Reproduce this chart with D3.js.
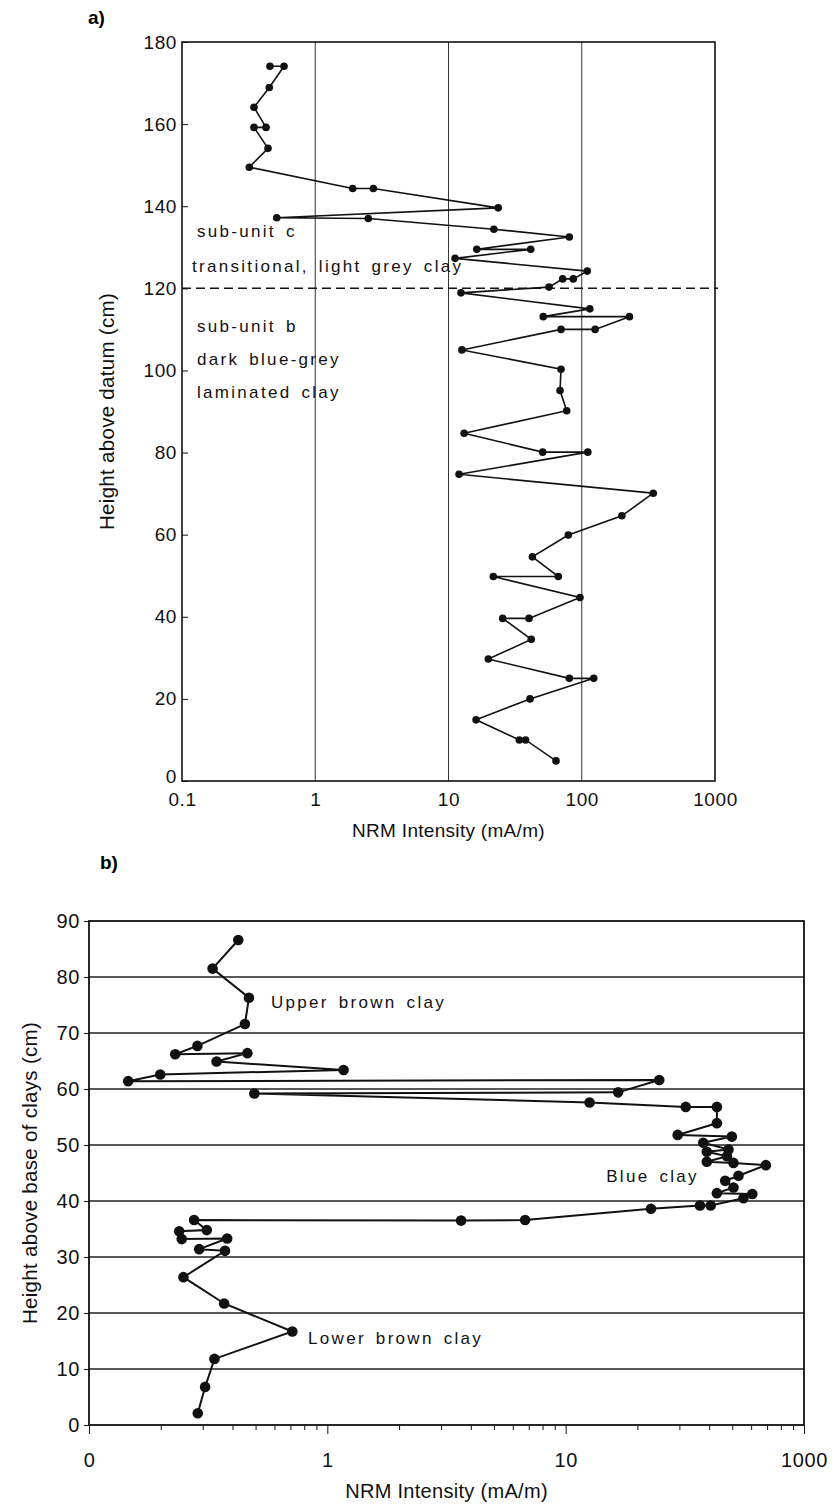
<!DOCTYPE html>
<html>
<head>
<meta charset="utf-8">
<script src="https://d3js.org/d3.v7.min.js"></script>
<style>
  body { margin: 0; background: #fff; }
  svg { font-family: "Liberation Sans", Arial, Helvetica, sans-serif; }
  .note { font-size: 17px; letter-spacing: 2.3px; word-spacing: 3px; fill: #111; }
  .title { font-size: 19px; fill: #111; letter-spacing: 0.3px; }
</style>
</head>
<body>
<svg id="fig" width="840" height="1504"></svg>
<script>
// ---- panel a) : height above datum vs NRM intensity
const aHeight = [174.1, 174.1, 168.9, 164.1, 159.2, 159.2, 154.1, 149.5, 144.3, 144.3,
  139.6, 137.2, 137.0, 134.4, 132.5, 129.5, 129.5, 127.3, 124.2, 122.3,
  122.3, 120.3, 118.9, 115.0, 113.1, 113.1, 110.0, 110.0, 105.0, 100.3,
  95.1, 90.2, 84.7, 80.1, 80.1, 74.7, 70.1, 64.6, 59.9, 54.6,
  49.8, 49.8, 44.7, 39.6, 39.6, 34.5, 29.7, 25.0, 25.0, 20.0,
  14.9, 10.0, 10.0, 4.9];
const aNRM = [0.457, 0.583, 0.452, 0.347, 0.427, 0.347, 0.442, 0.320, 1.91, 2.73,
  23.6, 0.514, 2.50, 21.9, 80.7, 16.3, 41.4, 11.2, 110, 86.4,
  71.9, 56.8, 12.4, 115, 51.4, 228, 126, 69.9, 12.6, 69.9,
  68.7, 77.1, 13.1, 50.9, 111, 12.0, 344, 200, 79.3, 42.6,
  66.7, 21.7, 97.0, 40.2, 25.5, 41.8, 19.9, 80.7, 123, 40.9,
  16.1, 34.0, 37.9, 64.1];
const aXTicks = [0.1, 1, 10, 100, 1000];
const aXLabels = ["0.1", "1", "10", "100", "1000"];
const aYTicks = [0, 20, 40, 60, 80, 100, 120, 140, 160, 180];
const aGrid = [1, 10, 100];
const aBoundary = 120;
const aNotes = [
  { text: "sub-unit c", h: 132.6 },
  { text: "transitional,  light grey clay", h: 123.9 },
  { text: "sub-unit b", h: 109.3 },
  { text: "dark blue-grey", h: 101.4 },
  { text: "laminated clay", h: 93.3 }
];

// ---- panel b) : height above base of clays vs NRM intensity
const bHeight = [86.6, 81.5, 76.3, 71.6, 67.7, 66.2, 66.4, 64.9, 63.4, 62.6,
  61.4, 61.6, 59.4, 59.2, 57.6, 56.8, 56.8, 53.9, 51.8, 51.5,
  50.4, 49.2, 48.8, 48.0, 47.0, 46.8, 46.4, 44.5, 43.6, 42.4,
  41.4, 41.25, 40.5, 39.2, 39.2, 38.6, 36.6, 36.5, 36.6, 34.8,
  34.6, 33.2, 33.3, 31.4, 31.1, 26.4, 21.7, 16.7, 11.8, 6.8, 2.1];
const bNRM = [0.423, 0.330, 0.469, 0.451, 0.285, 0.230, 0.462, 0.343, 1.17, 0.199,
  0.146, 24.7, 16.6, 0.494, 12.6, 31.9, 43.1, 43.1, 29.5, 49.8,
  37.8, 48.2, 39.1, 47.5, 39.1, 50.6, 69.2, 53.1, 46.7, 50.6,
  43.1, 60.7, 55.7, 40.6, 36.6, 22.8, 6.76, 3.64, 0.276, 0.312,
  0.239, 0.245, 0.380, 0.290, 0.372, 0.249, 0.369, 0.713, 0.336, 0.307, 0.286];
const bXTicks = [0.1, 1, 10, 100];
const bXLabels = ["0", "1", "10", "1000"];
const bYTicks = [0, 10, 20, 30, 40, 50, 60, 70, 80, 90];
const bNotes = [
  { text: "Upper brown clay", x: 0.58, h: 74.5 },
  { text: "Blue clay", x: 14.8, h: 43.4 },
  { text: "Lower brown clay", x: 0.83, h: 14.4 }
];

const svg = d3.select("#fig");
svg.append("rect").attr("width", 840).attr("height", 1504).attr("fill", "#fff");

function styleAxis(g, size) {
  g.attr("font-family", null).attr("font-size", null);
  g.selectAll("text").style("font-size", size + "px").style("letter-spacing", "0.6px").attr("fill", "#111");
  g.selectAll("line").attr("stroke", "#111");
  g.select(".domain").remove();
}

// ================= panel a =================
const xA = d3.scaleLog().domain([0.1, 1000]).range([182, 715]);
const yA = d3.scaleLinear().domain([0, 180]).range([781, 42]);

const ga = svg.append("g");

ga.selectAll(".vgrid").data(aGrid).join("line")
  .attr("x1", d => xA(d)).attr("x2", d => xA(d))
  .attr("y1", yA(180)).attr("y2", yA(0))
  .attr("stroke", "#333").attr("stroke-width", 1);

ga.append("line")
  .attr("x1", xA(0.1)).attr("x2", xA(1000) + 3)
  .attr("y1", yA(aBoundary)).attr("y2", yA(aBoundary))
  .attr("stroke", "#111").attr("stroke-width", 1.5)
  .attr("stroke-dasharray", "9,5");

ga.append("g").attr("transform", `translate(${xA(0.1)},0)`)
  .call(d3.axisLeft(yA).tickValues(aYTicks).tickSize(-6).tickPadding(5))
  .call(g => styleAxis(g, 19))
  .call(g => g.selectAll(".tick text").filter(d => d === 0).attr("y", -5));

ga.append("g").attr("transform", `translate(0,${yA(0)})`)
  .call(d3.axisBottom(xA).tickValues(aXTicks).tickSize(0).tickPadding(12)
    .tickFormat((d, i) => aXLabels[i]))
  .call(g => styleAxis(g, 19));

ga.append("rect")
  .attr("x", xA(0.1)).attr("y", yA(180))
  .attr("width", xA(1000) - xA(0.1)).attr("height", yA(0) - yA(180))
  .attr("fill", "none").attr("stroke", "#111").attr("stroke-width", 1.6);

const lineA = d3.line().x((d, i) => xA(aNRM[i])).y(d => yA(d));
ga.append("path").datum(aHeight).attr("d", lineA)
  .attr("fill", "none").attr("stroke", "#111").attr("stroke-width", 1.6);
ga.selectAll(".dotA").data(aHeight).join("circle")
  .attr("cx", (d, i) => xA(aNRM[i])).attr("cy", d => yA(d))
  .attr("r", 3.8).attr("fill", "#111");

ga.selectAll(".noteA").data(aNotes).join("text")
  .attr("class", "note")
  .attr("x", (d, i) => i === 1 ? xA(0.1) + 10 : xA(0.1) + 15)
  .attr("y", d => yA(d.h))
  .text(d => d.text);

ga.append("text").attr("class", "title")
  .attr("x", (xA(0.1) + xA(1000)) / 2).attr("y", 837)
  .attr("text-anchor", "middle").text("NRM Intensity (mA/m)");
ga.append("text").attr("class", "title").style("font-size", "20.5px")
  .attr("transform", `translate(114,${(yA(0) + yA(180)) / 2}) rotate(-90)`)
  .attr("text-anchor", "middle").text("Height above datum (cm)");
ga.append("text").attr("x", 88).attr("y", 24)
  .style("font-size", "19px").style("font-weight", "bold").text("a)");

// ================= panel b =================
const xB = d3.scaleLog().domain([0.1, 100]).range([89, 804]);
const yB = d3.scaleLinear().domain([0, 90]).range([1425, 921]);

const gb = svg.append("g");

gb.selectAll(".hgrid").data(bYTicks.slice(1, -1)).join("line")
  .attr("x1", xB(0.1)).attr("x2", xB(100))
  .attr("y1", d => yB(d)).attr("y2", d => yB(d))
  .attr("stroke", "#222").attr("stroke-width", 1.3);

gb.append("g").attr("transform", `translate(${xB(0.1)},0)`)
  .call(d3.axisLeft(yB).tickValues(bYTicks).tickSize(5).tickPadding(4))
  .call(g => styleAxis(g, 20));

const minorB = [];
[0.1, 1, 10].forEach(dec => { for (let k = 2; k <= 9; k++) minorB.push(dec * k); });

gb.append("g").attr("transform", `translate(0,${yB(0)})`)
  .call(d3.axisBottom(xB).tickValues(minorB).tickSize(5).tickFormat(""))
  .call(g => styleAxis(g, 20));

gb.append("g").attr("transform", `translate(0,${yB(0)})`)
  .call(d3.axisBottom(xB).tickValues(bXTicks).tickSize(9).tickPadding(19)
    .tickFormat((d, i) => bXLabels[i]))
  .call(g => styleAxis(g, 20));

gb.append("rect")
  .attr("x", xB(0.1)).attr("y", yB(90))
  .attr("width", xB(100) - xB(0.1)).attr("height", yB(0) - yB(90))
  .attr("fill", "none").attr("stroke", "#111").attr("stroke-width", 1.8);

const lineB = d3.line().x((d, i) => xB(bNRM[i])).y(d => yB(d));
gb.append("path").datum(bHeight).attr("d", lineB)
  .attr("fill", "none").attr("stroke", "#111").attr("stroke-width", 2);
gb.selectAll(".dotB").data(bHeight).join("circle")
  .attr("cx", (d, i) => xB(bNRM[i])).attr("cy", d => yB(d))
  .attr("r", 5.3).attr("fill", "#111");

gb.selectAll(".noteB").data(bNotes).join("text")
  .attr("class", "note")
  .attr("x", d => xB(d.x)).attr("y", d => yB(d.h))
  .text(d => d.text);

gb.append("text").attr("class", "title").style("font-size", "20px")
  .attr("x", (xB(0.1) + xB(100)) / 2).attr("y", 1498)
  .attr("text-anchor", "middle").text("NRM Intensity (mA/m)");
gb.append("text").attr("class", "title").style("font-size", "20.5px")
  .attr("transform", `translate(37,${(yB(0) + yB(90)) / 2}) rotate(-90)`)
  .attr("text-anchor", "middle").text("Height above base of clays (cm)");
gb.append("text").attr("x", 100).attr("y", 869)
  .style("font-size", "19px").style("font-weight", "bold").text("b)");
</script>
</body>
</html>
